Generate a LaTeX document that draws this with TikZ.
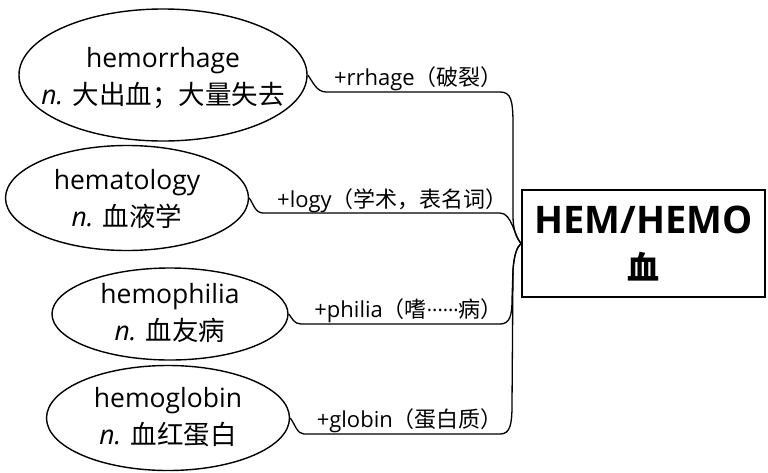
\documentclass[tikz,border=0pt]{standalone}
\usepackage{fontspec}
\setmainfont{Open Sans}
\newfontfamily\cjk{Noto Sans CJK SC}
\usetikzlibrary{shapes.geometric}
\begin{document}
\begin{tikzpicture}[x=1pt,y=-1pt,
  word/.style={ellipse, draw, line width=1.4pt, inner sep=0pt},
  wtext/.style={inner sep=0pt, align=center, font=\fontsize{26.5}{37}\selectfont},
  hubbox/.style={draw, line width=2pt, inner sep=0pt, align=center,
    minimum width=243, minimum height=107, font=\fontsize{38}{46}\selectfont},
  link/.style={line width=1.3pt},
  affix/.style={font=\fontsize{22}{26}\selectfont, anchor=base east, inner sep=0pt}]
\useasboundingbox (0,0) rectangle (768,472);

\node[word, minimum width=288, minimum height=132] (e1) at (163,75) {};
\node[wtext] (t1) at (163,78) {hemorrhage\\{\itshape n.} {\cjk 大出血；大量失去}};
\node[word, minimum width=243, minimum height=105] (e2) at (127,198) {};
\node[wtext] (t2) at (127,199) {hematology\\{\itshape n.} {\cjk 血液学}};
\node[word, minimum width=236, minimum height=92] (e3) at (170,314) {};
\node[wtext] (t3) at (170,313) {hemophilia\\{\itshape n.} {\cjk 血友病}};
\node[word, minimum width=243, minimum height=105] (e4) at (168,418) {};
\node[wtext] (t4) at (168,417) {hemoglobin\\{\itshape n.} {\cjk 血红蛋白}};

\node[hubbox] (hub) at (643.5,243.5) {\bfseries HEM/HEMO\\{\fontsize{32}{32}\selectfont\cjk\bfseries 血}};

\draw[link] (e1.east) .. controls (312,80) and (316,92) .. (326,92) -- (500,92)
  .. controls (511,92) and (513,100) .. (513,125) -- (513,215)
  .. controls (513,232) and (517,238) .. (hub.west);
\draw[link] (e2.east) .. controls (253,203) and (255,213) .. (263,213) -- (500,213)
  .. controls (512,213) and (514,236) .. (hub.west);
\draw[link] (e3.east) .. controls (292,318) and (294,324) .. (301,324) -- (500,324)
  .. controls (510,324) and (512,315) .. (512,300) -- (513,270)
  .. controls (514,255) and (517,247) .. (hub.west);
\draw[link] (e4.east) .. controls (295,424) and (297,434) .. (304,434) -- (500,434)
  .. controls (510,434) and (512,425) .. (512,405) -- (513,270)
  .. controls (514,255) and (517,247) .. (hub.west);

\node[affix] (l1) at (503,85) {+rrhage{\cjk（破裂）}};
\node[affix] (l2) at (508,207) {+logy{\cjk（学术，表名词）}};
\node[affix] (l3) at (503,317) {+philia{\cjk（嗜}{\fontsize{20}{24}\selectfont ······}{\cjk 病）}};
\node[affix] (l4) at (503,427) {+globin{\cjk（蛋白质）}};
\end{tikzpicture}
\end{document}
